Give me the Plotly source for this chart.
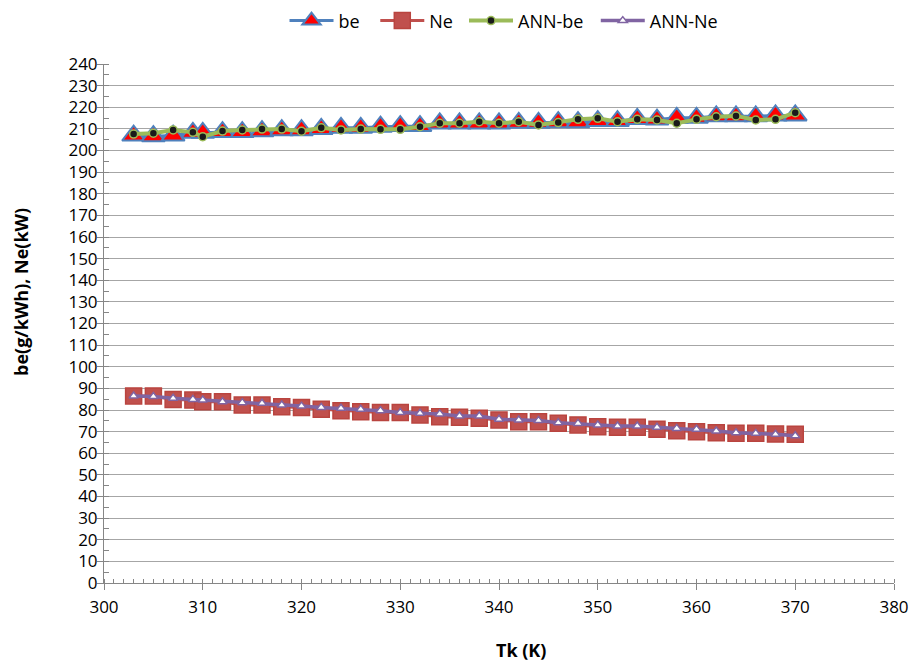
import plotly.graph_objects as go

tk = [303, 305, 307, 309, 310, 312, 314, 316, 318, 320, 322, 324, 326, 328, 330, 332, 334,
      336, 338, 340, 342, 344, 346, 348, 350, 352, 354, 356, 358, 360, 362, 364, 366, 368, 370]

be = [206.9, 206.6, 206.9, 208.2, 208.2, 208.5, 208.5, 208.9, 209.4, 209.4, 210.0, 210.5,
      210.5, 211.0, 211.3, 211.3, 212.5, 212.5, 212.5, 212.5, 212.8, 212.8, 213.1, 213.1,
      213.6, 213.6, 214.6, 214.3, 215.1, 215.1, 215.8, 215.8, 215.8, 216.2, 216.2]

ne = [86.5, 86.5, 84.9, 84.6, 83.8, 83.8, 82.3, 82.3, 81.5, 81.2, 80.3, 79.7, 79.2,
      78.8, 78.8, 77.7, 76.9, 76.6, 76.2, 75.4, 74.6, 74.6, 73.9, 73.1, 72.3, 72.0,
      72.0, 71.1, 70.4, 70.0, 69.5, 69.2, 69.2, 68.9, 68.8]

ann_be = [207.6, 208.0, 209.5, 208.4, 206.4, 209.0, 209.5, 209.9, 209.9, 208.9, 210.5, 209.5,
          209.9, 209.8, 209.8, 211.0, 212.6, 212.6, 213.3, 212.6, 213.3, 211.8, 212.9, 214.4,
          214.9, 213.3, 214.4, 214.1, 212.6, 214.4, 215.6, 216.0, 214.1, 214.4, 217.5]

ann_ne = [86.5, 86.2, 85.4, 84.9, 84.6, 83.8, 83.4, 83.1, 82.3, 81.8, 81.2, 80.8, 80.3,
          79.7, 78.8, 78.5, 78.2, 77.2, 77.2, 75.7, 75.4, 75.1, 74.1, 73.8, 73.1, 72.6,
          72.6, 72.0, 71.5, 71.1, 70.3, 69.5, 69.2, 68.8, 68.1]

x_title = "Tk (K)"
y_title = "be(g/kWh), Ne(kW)"

FONT = "Open Sans"

fig = go.Figure()
fig.add_trace(go.Scatter(
    x=tk, y=be, name="be", mode="lines+markers", legend="legend",
    line=dict(color="#4F81BD", width=3),
    marker=dict(symbol="triangle-up", size=20, color="#FF0000",
                line=dict(color="#4F81BD", width=2))))
fig.add_trace(go.Scatter(
    x=tk, y=ne, name="Ne", mode="lines+markers", legend="legend2",
    line=dict(color="#C0504D", width=3),
    marker=dict(symbol="square", size=16, color="#C0504D",
                line=dict(color="#B9443F", width=1.5))))
fig.add_trace(go.Scatter(
    x=tk, y=ann_be, name="ANN-be", mode="lines+markers", legend="legend3",
    line=dict(color="#9BBB59", width=4),
    marker=dict(symbol="circle", size=8, color="#1a1a1a",
                line=dict(color="#9BBB59", width=1.5))))
fig.add_trace(go.Scatter(
    x=tk, y=ann_ne, name="ANN-Ne", mode="lines+markers", legend="legend4",
    line=dict(color="#8064A2", width=3.5),
    marker=dict(symbol="triangle-up", size=8, color="#FFFFFF",
                line=dict(color="#8064A2", width=1.5))))

def leg(x):
    return dict(orientation="v", x=x, xanchor="left", y=1.083, yanchor="middle",
                font=dict(family=FONT, size=18), itemwidth=44, bgcolor="rgba(0,0,0,0)")

fig.update_layout(
    width=902, height=655,
    margin=dict(l=96, r=16, t=56, b=80, autoexpand=False),
    paper_bgcolor="white", plot_bgcolor="white",
    font=dict(family=FONT, size=17, color="#000000"),
    legend=leg(0.2285), legend2=leg(0.3434), legend3=leg(0.4557), legend4=leg(0.6225),
    showlegend=True,
    annotations=[
        dict(text="<b>" + y_title + "</b>", xref="paper", yref="paper",
             x=-0.1051, y=0.5607, xanchor="center", yanchor="middle",
             textangle=-90, showarrow=False, font=dict(family=FONT, size=18)),
        dict(text="<b>" + x_title + "</b>", xref="paper", yref="paper",
             x=0.5278, y=-0.1291, xanchor="center", yanchor="middle",
             showarrow=False, font=dict(family=FONT, size=18)),
    ],
)
fig.update_xaxes(
    range=[300, 380], dtick=10, tick0=300, automargin=False,
    showgrid=False, showline=True, linecolor="#868686", linewidth=1,
    ticks="outside", ticklen=6, tickcolor="#868686", ticklabelstandoff=3,
    minor=dict(dtick=1, ticks="inside", ticklen=4, tickcolor="#868686", showgrid=False),
    tickfont=dict(family=FONT, size=17),
    zeroline=False,
)
fig.update_yaxes(
    range=[0, 240], dtick=10, tick0=0, automargin=False,
    showgrid=True, gridcolor="#A6A6A6", gridwidth=1,
    showline=True, linecolor="#868686", linewidth=1,
    ticks="outside", ticklen=6, tickcolor="#868686", ticklabelstandoff=-4,
    minor=dict(dtick=5, ticks="inside", ticklen=5, tickcolor="#868686", showgrid=False),
    tickfont=dict(family=FONT, size=17),
    zeroline=False,
)

fig.write_html("out.html")
